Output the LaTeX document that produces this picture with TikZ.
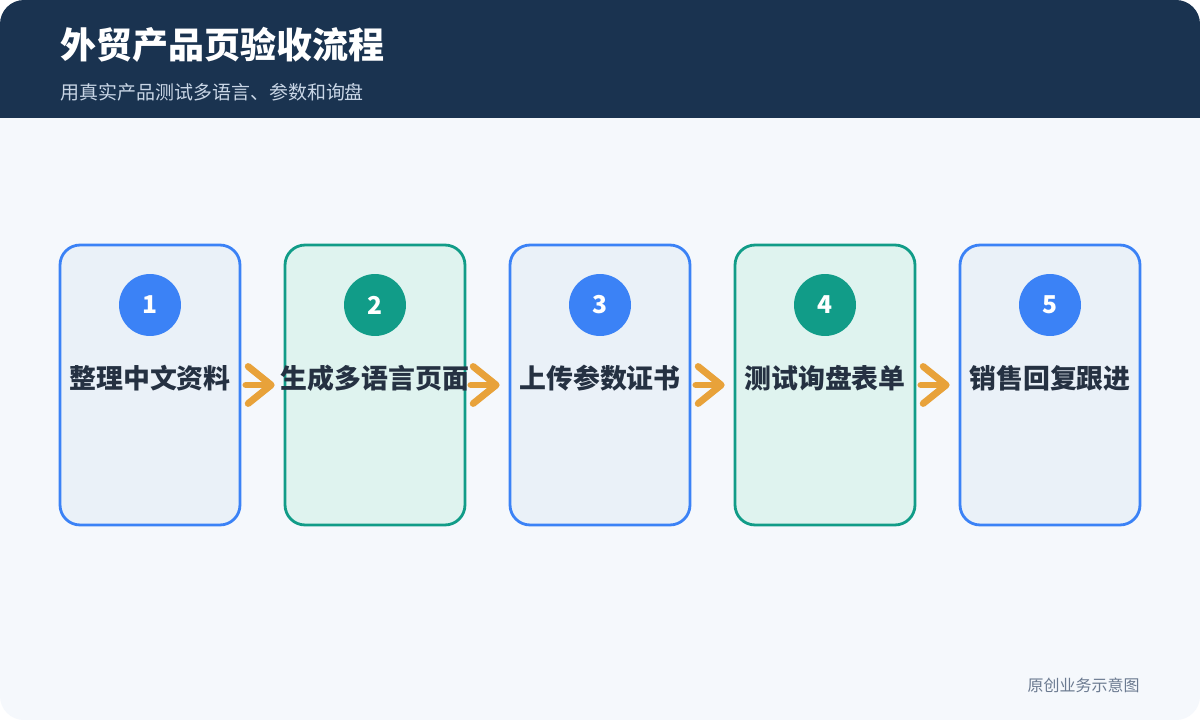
\documentclass[tikz,border=0pt]{standalone}
\usepackage{fontspec}
\setmainfont{Noto Sans CJK SC}
\usetikzlibrary{arrows.meta}
\definecolor{headnavy}{HTML}{1A3350}
\definecolor{pageback}{HTML}{F5F8FC}
\definecolor{stepblue}{HTML}{3B82F6}
\definecolor{blueback}{HTML}{EAF1F8}
\definecolor{stepgreen}{HTML}{119C88}
\definecolor{greenback}{HTML}{DFF3EF}
\definecolor{labeldark}{HTML}{253142}
\definecolor{subgray}{HTML}{C9D6E6}
\definecolor{footgray}{HTML}{6B7A90}
\definecolor{arroworange}{HTML}{E8A23A}

\begin{document}
\begin{tikzpicture}[x=0.02cm, y=-0.02cm,
    card/.style={line width=1.6pt, rounded corners=0.4cm, minimum width=3.6cm, minimum height=5.6cm},
    bluecard/.style={card, draw=stepblue, fill=blueback},
    greencard/.style={card, draw=stepgreen, fill=greenback},
    badge/.style={circle, minimum size=1.24cm, inner sep=0pt, text=white, font=\fontsize{14pt}{16pt}\selectfont\bfseries},
    steplabel/.style={text=labeldark, inner sep=0pt, font=\fontsize{15.3pt}{18pt}\selectfont\bfseries},
    flow/.style={arroworange, line width=3.9pt, line cap=round, -{Straight Barb[length=0.46cm, width=0.74cm, round]}, shorten <=0.09cm, shorten >=0.18cm}]

    % page and header
    \fill[white] (0,0) rectangle (1200,720);
    \begin{scope}
        \clip[rounded corners=0.48cm] (0,0) rectangle (1200,720);
        \fill[pageback] (0,0) rectangle (1200,720);
        \fill[headnavy] (0,0) rectangle (1200,118);
    \end{scope}
    \node[anchor=west, inner sep=0pt, text=white, font=\fontsize{20.5pt}{24pt}\selectfont\bfseries] (title) at (60,45) {外贸产品页验收流程};
    \node[anchor=west, inner sep=0pt, text=subgray, font=\fontsize{10.8pt}{13pt}\selectfont] (subtitle) at (60,92) {用真实产品测试多语言、参数和询盘};

    % steps
    \node[bluecard] (s1) at (150,385) {};
    \node[greencard] (s2) at (375,385) {};
    \node[bluecard] (s3) at (600,385) {};
    \node[greencard] (s4) at (825,385) {};
    \node[bluecard] (s5) at (1050,385) {};

    \node[badge, fill=stepblue] (n1) at (150,305) {1};
    \node[badge, fill=stepgreen] (n2) at (375,305) {2};
    \node[badge, fill=stepblue] (n3) at (600,305) {3};
    \node[badge, fill=stepgreen] (n4) at (825,305) {4};
    \node[badge, fill=stepblue] (n5) at (1050,305) {5};

    \node[steplabel] (t1) at (150,378) {整理中文资料};
    \node[steplabel] (t2) at (375,378) {生成多语言页面};
    \node[steplabel] (t3) at (600,378) {上传参数证书};
    \node[steplabel] (t4) at (825,378) {测试询盘表单};
    \node[steplabel] (t5) at (1050,378) {销售回复跟进};

    \draw[flow] (s1.east) -- (s2.west);
    \draw[flow] (s2.east) -- (s3.west);
    \draw[flow] (s3.east) -- (s4.west);
    \draw[flow] (s4.east) -- (s5.west);

    \node[anchor=east, inner sep=0pt, text=footgray, font=\fontsize{9.1pt}{11pt}\selectfont] (foot) at (1140,685) {原创业务示意图};
\end{tikzpicture}
\end{document}
